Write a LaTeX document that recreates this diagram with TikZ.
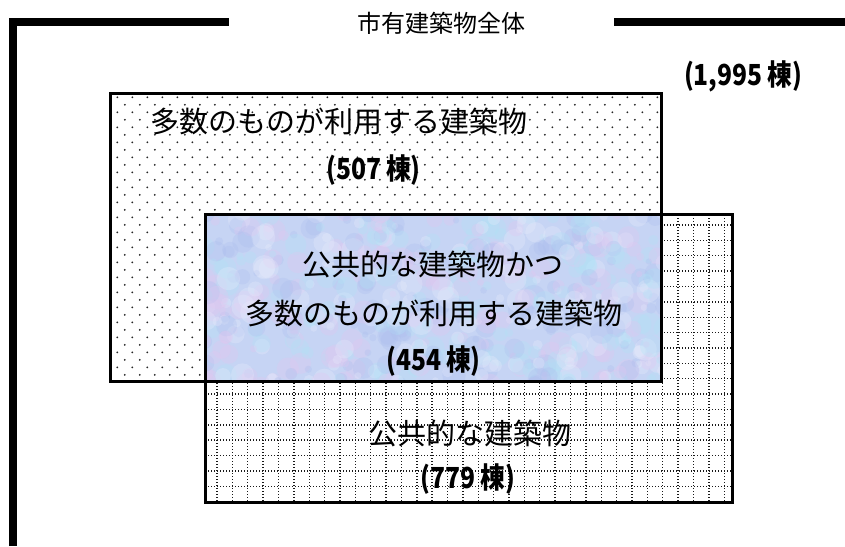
\documentclass[tikz,border=0pt]{standalone}
\usepackage{fontspec}
\newfontfamily\cjk{Noto Sans CJK JP}
\newfontfamily\cjkn{Noto Sans CJK JP}[FakeStretch=0.85]
\definecolor{bluebase}{RGB}{198,212,244}
\definecolor{texA}{RGB}{226,198,240}
\definecolor{texB}{RGB}{176,228,246}
\definecolor{texC}{RGB}{232,236,252}
\definecolor{texD}{RGB}{172,190,238}
\begin{document}
\begin{tikzpicture}[x=1pt,y=-1pt,
  frame/.style={line width=8pt, black},
  boxline/.style={line width=3pt, black},
  gridline/.style={line width=1.4pt, black!90, dash pattern=on 1.4pt off 1.6pt},
  lbl/.style={font=\cjk\fontsize{29}{31}\selectfont, inner sep=0pt},
  ttl/.style={font=\cjk\fontsize{24}{26}\selectfont, inner sep=0pt},
  cnt/.style={font=\cjkn\bfseries\fontsize{29}{31}\selectfont, inner sep=0pt},
]
\useasboundingbox (0,0) rectangle (845,546);
\fill[white] (0,0) rectangle (845,546);

% outer frame
\draw[frame, line join=miter] (13.3,546) -- (13.3,22) -- (229,22);
\draw[frame] (614,22) -- (845,22);

\coordinate (r1a) at (110,93);
\coordinate (r1b) at (661,381);
\coordinate (r2a) at (205,214);
\coordinate (r2b) at (732,502);

% dotted fill of first box
\begin{scope}
\clip (r1a) rectangle (r1b);
\fill[black!85] \foreach \i in {-1,...,37}{ \foreach \j in {-7,...,13} { (117.3+15*\i,187.3+15*\j) circle (1.0) (124.8+15*\i,194.8+15*\j) circle (1.0) } };
\end{scope}

% grid fill of second box
\begin{scope}
\clip (r2a) rectangle (r2b);
\fill[white] (r2a) rectangle (r2b);
\draw[gridline] \foreach \i in {-1,...,35} { (217+15.37*\i,200) -- (217+15.37*\i,520) };
\draw[gridline] \foreach \j in {-1,...,19} { (190,225+15.37*\j) -- (750,225+15.37*\j) };
\end{scope}

% textured intersection
\begin{scope}
\clip (205,214) rectangle (661,381);
\fill[bluebase] (205,214) rectangle (661,381);
\pgfmathsetseed{12}
\foreach \k in {1,...,600}{
  \pgfmathsetmacro\px{200+466*rnd}
  \pgfmathsetmacro\py{209+177*rnd}
  \pgfmathsetmacro\pr{3+9*rnd}
  \pgfmathtruncatemacro\pc{int(3.99*rnd)}
  \ifcase\pc \def\cc{texA}\or \def\cc{texB}\or \def\cc{texC}\else \def\cc{texD}\fi
  \fill[\cc, opacity=0.3] (\px,\py) circle (\pr);
}
\end{scope}

% borders
\draw[boxline] (r1a) rectangle (r1b);
\draw[boxline] (r2a) rectangle (r2b);

% texts
\node[ttl] (title) at (441.5,23) {市有建築物全体};
\node[cnt] (total) at (743,76) {(1,995\,棟)};
\node[lbl] (many) at (339,121) {多数のものが利用する建築物};
\node[cnt] (n507) at (373.5,170) {(507\,棟)};
\node[lbl] (both1) at (433,264) {公共的な建築物かつ};
\node[lbl] (both2) at (434,313) {多数のものが利用する建築物};
\node[cnt] (n454) at (433.5,361) {(454\,棟)};
\node[lbl] (pub) at (470,433.5) {公共的な建築物};
\node[cnt] (n779) at (468,479.5) {(779\,棟)};
\end{tikzpicture}
\end{document}
